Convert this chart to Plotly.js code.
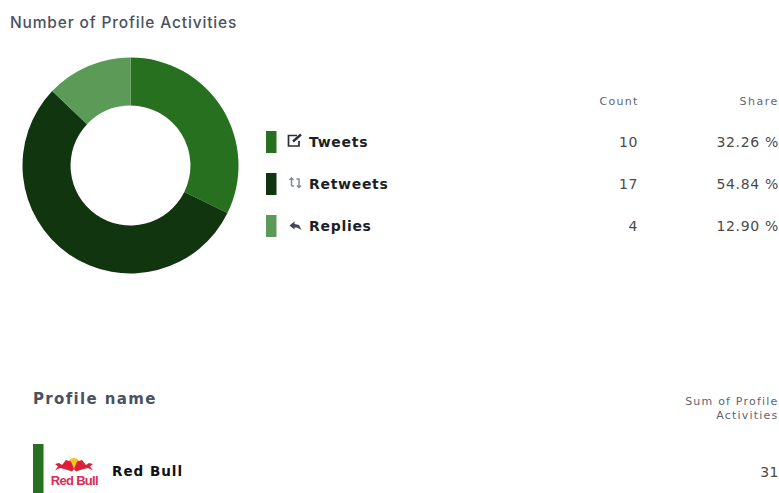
<!DOCTYPE html>
<html><head><meta charset="utf-8">
<script src="https://cdn.plot.ly/plotly-3.0.1.min.js"></script>
<style>
html,body{margin:0;padding:0;background:#fff;overflow:hidden}
</style></head><body>
<div id="chart" style="width:779px;height:493px"></div>
<script>
const categories = ["Tweets", "Retweets", "Replies"];
const counts = [10, 17, 4];
const shares = ["32.26 %", "54.84 %", "12.90 %"];
const colors = ["#27701f", "#11350e", "#5c9a58"];
const chartTitle = "Number of Profile Activities";
const countHeader = "Count";
const shareHeader = "Share";
const profileHeader = "Profile name";
const sumHeader = "Sum of Profile<br>Activities";
const profiles = ["Red Bull"];
const profileSums = [31];

const W = 779, H = 493;
const px = x => x / W, py = y => 1 - y / H;
const rowY = [142, 184, 226];
const MONO = "DejaVu Sans, sans-serif";

let css = "";
const annotations = [];
function note(text, x, y, xanchor, size, color, bold, family, spacing, weight) {
  const i = annotations.length;
  if (spacing) css += `.annotation[data-index="${i}"] .annotation-text{letter-spacing:${spacing}px}\n`;
  const font = {size, color, family: family || MONO};
  if (weight) font.weight = weight;
  annotations.push({text: bold ? "<b>" + text + "</b>" : text, x: px(x), y: py(y), xref: "paper", yref: "paper",
    xanchor, yanchor: "middle", showarrow: false, align: xanchor, font, borderpad: 0, borderwidth: 0});
}
note(chartTitle, 10, 22.5, "left", 15.5, "#4a5261", false, "Inter, sans-serif", 0.85, 500);
note(countHeader, 638.5, 102, "right", 11, "#5f6470", false, null, 1.3);
note(shareHeader, 779, 102, "right", 11, "#5f6470", false, null, 1.5);
note(profileHeader, 33, 399, "left", 15, "#4a5261", true, null, 1.35);
note(sumHeader, 779, 408.5, "right", 11, "#5f6470", false, null, 1.2);
note(profiles[0], 112, 471, "left", 13.5, "#111111", true, null, 1);
note(String(profileSums[0]), 779, 471.5, "right", 14, "#4a4a4a", false, null, 0.4);
categories.forEach((c, i) => {
  note(c, 309, rowY[i], "left", 14, "#1c1f24", true, null, 0.7);
  note(String(counts[i]), 638, rowY[i], "right", 14, "#4a4a4a", false, null, 0.5);
  note(shares[i], 779, rowY[i], "right", 14, "#4a4a4a", false, null, 0.65);
});
note("<b>Red Bull</b>", 74.5, 480, "center", 13, "#dc2a55", false, "Liberation Sans, sans-serif", -0.7);
const styleEl = document.createElement("style");
styleEl.textContent = css;
document.head.appendChild(styleEl);

function box(x0, y0, x1, y1, color) {
  return {type: "rect", xref: "paper", yref: "paper", x0: px(x0), x1: px(x1), y0: py(y1), y1: py(y0),
    fillcolor: color, line: {width: 0}, layer: "above"};
}
// icon and logo outlines, authored in pixel space and mapped onto paper space
function path(points, closed, opts) {
  const d = points.map((p, i) => (i ? "L" : "M") + px(p[0]).toFixed(5) + "," + py(p[1]).toFixed(5)).join(" ") + (closed ? " Z" : "");
  return Object.assign({type: "path", xref: "paper", yref: "paper", path: d, layer: "above"}, opts);
}
const shapes = [];
categories.forEach((c, i) => shapes.push(box(266, rowY[i] - 11, 276.5, rowY[i] + 11, colors[i])));
shapes.push(box(33, 444, 43.5, 493, colors[0]));
// Tweet icon
shapes.push(path([[297,135.5],[288.5,135.5],[288.5,146],[299,146],[299,141]], false, {line: {color: "#2b2f36", width: 1.7}, fillcolor: "rgba(0,0,0,0)"}));
shapes.push(path([[293,141.5],[301,134.5]], false, {line: {color: "#2b2f36", width: 2.4}}));
// Retweet icon
const rt = {line: {color: "#7d8592", width: 1.4}, fillcolor: "rgba(0,0,0,0)"};
shapes.push(path([[291.5,186],[294,186]], false, rt));
shapes.push(path([[291.5,186],[291.5,178]], false, rt));
shapes.push(path([[289.5,180],[291.5,178],[293.5,180]], false, rt));
shapes.push(path([[296.5,179],[299,179],[299,187.5]], false, rt));
shapes.push(path([[297,185.5],[299,187.5],[301,185.5]], false, rt));
// Reply icon
shapes.push(path([[289.5,225.5],[294.5,221.5],[294.5,224],[299,225],[301.5,230],[297,227.5],[294.5,227.5],[294.5,229.5]], true, {line: {width: 0}, fillcolor: "#3f4756"}));
// Red Bull logo
shapes.push({type: "circle", xref: "paper", yref: "paper", x0: px(68), x1: px(80), y0: py(470), y1: py(458), fillcolor: "#f6c21c", line: {width: 0}, layer: "above"});
shapes.push(path([[55,464],[59,463],[62,465],[66,460],[71,461.5],[74,469],[72,471.5],[66,469.5],[60,468],[55,470.5],[58,466.5]], true, {line: {width: 0}, fillcolor: "#d8213a"}));
shapes.push(path([[93,464],[89,463],[86,465],[82,460],[77,461.5],[74,469],[76,471.5],[82,469.5],[88,468],[93,470.5],[90,466.5]], true, {line: {width: 0}, fillcolor: "#d8213a"}));

Plotly.newPlot("chart", [{
  type: "pie",
  labels: categories,
  values: counts,
  hole: 0.555,
  sort: false,
  direction: "clockwise",
  rotation: 0,
  textinfo: "none",
  hoverinfo: "label+value+percent",
  marker: {colors, line: {width: 0}},
  domain: {x: [px(22.5), px(238.5)], y: [py(273.5), py(57.5)]},
  showlegend: false
}], {
  width: W, height: H,
  margin: {l: 0, r: 0, t: 0, b: 0},
  paper_bgcolor: "#ffffff",
  showlegend: false,
  annotations, shapes
}, {displayModeBar: false, staticPlot: true});
</script>
</body></html>
